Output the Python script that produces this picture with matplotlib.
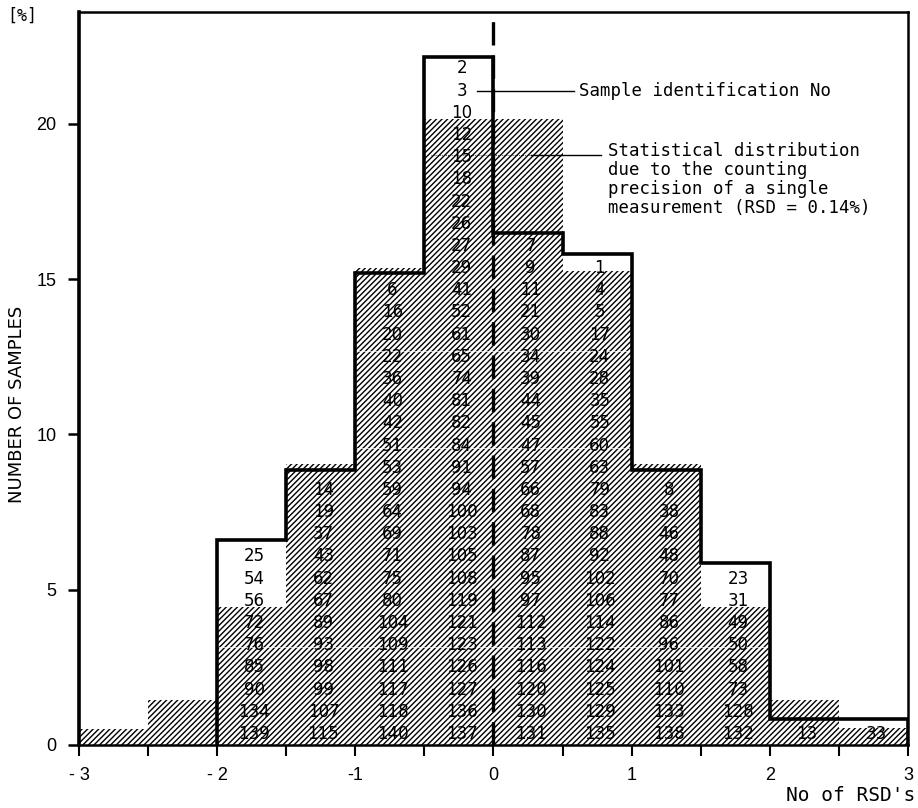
import matplotlib
matplotlib.use("Agg")
import matplotlib.pyplot as plt

# sample numbers per half-RSD column, listed from bottom to top
col_centers = [-1.75, -1.25, -0.75, -0.25, 0.25, 0.75, 1.25, 1.75, 2.25, 2.75]
col_samples = [
    [139, 134, 90, 85, 76, 72, 56, 54, 25],
    [115, 107, 99, 98, 93, 89, 67, 62, 43, 37, 19, 14],
    [140, 118, 117, 111, 109, 104, 80, 75, 71, 69, 64, 59, 53, 51, 42, 40, 36, 22, 20, 16, 6],
    [137, 136, 127, 126, 123, 121, 119, 108, 105, 103, 100, 94, 91, 84, 82, 81, 74, 65, 61, 52,
     41, 29, 27, 26, 22, 18, 15, 12, 10, 3, 2],
    [131, 130, 120, 116, 113, 112, 97, 95, 87, 78, 68, 66, 57, 47, 45, 44, 39, 34, 30, 21, 11, 9, 7],
    [135, 129, 125, 124, 122, 114, 106, 102, 92, 88, 83, 79, 63, 60, 55, 35, 28, 24, 17, 5, 4, 1],
    [138, 133, 110, 101, 96, 86, 77, 70, 48, 46, 38, 8],
    [132, 128, 73, 58, 50, 49, 31, 23],
    [13],
    [33],
]
n_total = 140

# measured histogram (thick outline), in %
hist_edges = [-2, -1.5, -1, -0.5, 0, 0.5, 1, 1.5, 2, 3]
hist_pct = [6.6, 8.85, 15.2, 22.15, 16.5, 15.8, 8.85, 5.85, 0.85]

# expected distribution from counting precision (hatched), in %
dist_edges = [-3, -2.5, -2, -1.5, -1, -0.5, 0, 0.5, 1, 1.5, 2, 2.5, 3]
dist_pct = [0.5, 1.45, 4.45, 9.05, 15.35, 20.15, 20.15, 15.25, 9.05, 4.45, 1.45, 0.55]

# faint seams across the hatched area in the original print
seam_y = [3.15, 9.55, 12.7]

xticks = [-3, -2, -1, 0, 1, 2, 3]
xticklabels = ['- 3', '- 2', '-1', '0', '1', '2', '3']
yticks = [0, 5, 10, 15, 20]

plt.rcParams['hatch.linewidth'] = 1.0

fig = plt.figure(figsize=(9.18, 8.08), dpi=100)
ax = fig.add_axes([0.086, 0.078, 0.903, 0.907])

# hatched distribution
hatch_patch = ax.stairs(dist_pct, dist_edges, fill=True, facecolor='white', edgecolor='black',
                        hatch='//////', linewidth=0, zorder=1)
for y in seam_y:
    ln = ax.axhline(y, color='white', linewidth=0.5, zorder=2)
    ln.set_clip_path(hatch_patch)

# sample numbers
step = 100.0 / n_total
for xc, nums in zip(col_centers, col_samples):
    for i, n in enumerate(nums):
        ax.text(xc + 0.02, (i + 0.5) * step, str(n), ha='center', va='center',
                fontsize=12, family='DejaVu Sans', color='black', zorder=3)

# outline of measured histogram
ax.stairs(hist_pct, hist_edges, baseline=0, color='black', linewidth=2.6, zorder=4)

# dashed line at 0
ax.axvline(0, color='black', linewidth=2.4, dashes=(7, 3), zorder=4)

# annotations
ax.plot([-0.12, 0.58], [21.06, 21.06], color='black', linewidth=1.0, zorder=5)
ax.text(0.62, 21.06, "Sample identification No", ha='left', va='center',
        fontsize=12.5, family='DejaVu Sans Mono')
ax.plot([-0.45, 0.27], [19.0, 19.0], color='black', linewidth=0.6, linestyle=(0, (1, 1.5)), zorder=5)
ax.plot([0.27, 0.78], [19.0, 19.0], color='black', linewidth=1.0, zorder=5)
ax.text(0.83, 19.42, "Statistical distribution\ndue to the counting\nprecision of a single\n"
        "measurement (RSD = 0.14%)", ha='left', va='top', fontsize=12.5,
        family='DejaVu Sans Mono', linespacing=1.08)

ax.set_xlim(-3, 3)
ax.set_ylim(0, 23.6)
ax.set_xticks(xticks)
ax.set_xticklabels(xticklabels, fontsize=13, family='Liberation Sans')
ax.set_xticks([-2.5, -1.5, -0.5, 0.5, 1.5, 2.5], minor=True)
ax.set_yticks(yticks)
ax.set_yticklabels([str(v) for v in yticks], fontsize=13, family='Liberation Sans')
ax.tick_params(axis='x', which='both', direction='out', length=8, width=1.5, pad=8)
ax.tick_params(axis='y', direction='out', length=8, width=1.8, pad=8)

for side in ['top', 'right', 'bottom']:
    ax.spines[side].set_linewidth(1.8)
ax.spines['left'].set_linewidth(2.6)

fig.text(0.008, 0.981, "[%]", ha='left', va='center', fontsize=12, family='DejaVu Sans Mono')
fig.text(0.019, 0.5, "NUMBER OF SAMPLES", rotation=90, ha='center', va='center',
         fontsize=13, family='DejaVu Sans')
fig.text(0.997, 0.016, "No of RSD's", ha='right', va='center', fontsize=14,
         family='DejaVu Sans Mono')

fig.savefig("out.png", dpi=100)
